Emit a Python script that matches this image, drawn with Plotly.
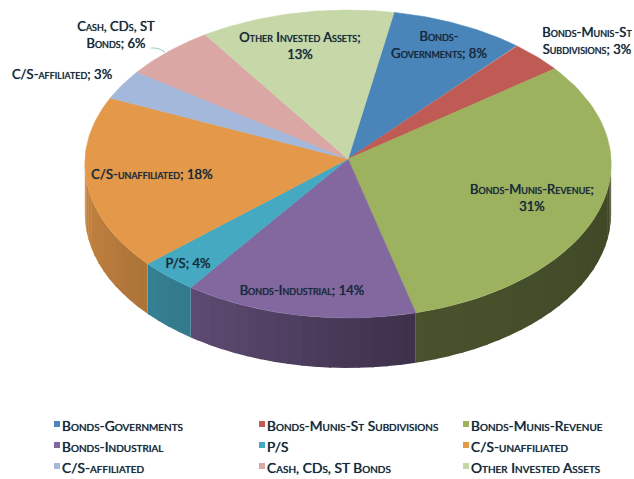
import numpy as np
import plotly.graph_objects as go

# ---- data ----
categories = ["Bonds-Governments", "Bonds-Munis-St Subdivisions", "Bonds-Munis-Revenue",
              "Bonds-Industrial", "P/S", "C/S-unaffiliated", "C/S-affiliated",
              "Cash, CDs, ST Bonds", "Other Invested Assets"]
values = [8.5, 3.4, 31.2, 13.9, 3.5, 18.2, 3.2, 5.8, 12.3]
slice_labels = ["Bonds-<br>Governments; 8%", "Bonds-Munis-St<br>Subdivisions; 3%",
                "Bonds-Munis-Revenue;<br>31%", "Bonds-Industrial; 14%", "P/S; 4%",
                "C/S-unaffiliated; 18%", "C/S-affiliated; 3%",
                "Cash, CDs, ST<br>Bonds; 6%", "Other Invested Assets;<br>13%"]

# ---- style and layout ----
colors = ["#4a85b9", "#bf5a54", "#9db25f", "#8368a0", "#45a9c1",
          "#e4994a", "#a3b8da", "#dba7a5", "#c7d8a8"]
label_x = [439, 587, 532, 302, 188, 152, 62, 116, 300]
label_y = [46, 42, 199, 291.5, 264.5, 175.5, 75.5, 36.5, 47]
legend_x = [62, 267, 471, 62, 267, 471, 62, 267, 471]
legend_y = [428, 428, 428, 449, 449, 449, 470, 470, 470]
FONT = "Lato"
LABEL_SIZE = 13.1
LEGEND_SIZE = 13.8
TEXT = "#17293a"
SHADOW = "0 0 0.7px #17293a"
CX, CY, A, B, K = 348, 159, 263, 153.8, 0.0325
DEPTH = 50
START = 10.4
shade_angle = [92, 165, 216, 270]
shade_value = [0.40, 0.46, 0.72, 0.88]


def rim(theta_deg):
    t = np.radians(theta_deg)
    w = 1 + K * np.cos(t)
    return CX + A * np.sin(t) / w, CY - B * np.cos(t) / w


def rgb(hex_color, f=1.0):
    r, g, b = (int(hex_color[i:i + 2], 16) for i in (1, 3, 5))
    return f"rgb({r * f:.0f},{g * f:.0f},{b * f:.0f})"


fig = go.Figure()
edges = START + np.concatenate([[0], np.cumsum(values)]) * 3.6
vis_lo = np.degrees(np.arccos(-K))
vis_hi = 360 - vis_lo

# side walls
for i, col in enumerate(colors):
    lo, hi = max(edges[i], vis_lo), min(edges[i + 1], vis_hi)
    if hi <= lo:
        continue
    steps = np.arange(lo, hi, 3.0).tolist() + [hi]
    for a0, a1 in zip(steps[:-1], steps[1:]):
        th = np.linspace(a0, a1 + (0.4 if a1 < hi else 0), 5)
        x, y = rim(th)
        px = np.concatenate([x, x[::-1]])
        py = np.concatenate([y, y[::-1] + DEPTH])
        f = float(np.interp((a0 + a1) / 2, shade_angle, shade_value))
        fig.add_trace(go.Scatter(x=px, y=py, mode="lines", fill="toself",
                                 fillcolor=rgb(col, f), line=dict(width=0),
                                 hoverinfo="skip", showlegend=False))

# top surface
for i, col in enumerate(colors):
    th = np.linspace(edges[i], edges[i + 1], 60)
    x, y = rim(th)
    fig.add_trace(go.Scatter(x=np.r_[CX, x, CX], y=np.r_[CY, y, CY], mode="lines",
                             fill="toself", fillcolor=col,
                             line=dict(width=0.6, color=col),
                             name=categories[i], hoverinfo="name", showlegend=False))

# leader line of the Cash label
fig.add_trace(go.Scatter(x=[151, 158, 165], y=[48, 48.5, 52], mode="lines",
                         line=dict(color="#9cc3cf", width=1, shape="spline"),
                         hoverinfo="skip", showlegend=False))

# slice labels
fig.add_trace(go.Scatter(x=label_x, y=label_y, text=slice_labels, mode="text",
                         textposition="middle center",
                         textfont=dict(family=FONT, size=LABEL_SIZE, color=TEXT, variant="small-caps", shadow=SHADOW),
                         hoverinfo="skip", showlegend=False, cliponaxis=False))

# legend
fig.add_trace(go.Scatter(x=[v - 5 for v in legend_x], y=[v - 4 for v in legend_y],
                         mode="markers",
                         marker=dict(symbol="square", size=6, color=colors),
                         hoverinfo="skip", showlegend=False))
fig.add_trace(go.Scatter(x=legend_x, y=legend_y, text=categories, mode="text",
                         textposition="middle right",
                         textfont=dict(family=FONT, size=LEGEND_SIZE, color=TEXT, variant="small-caps", shadow=SHADOW),
                         hoverinfo="skip", showlegend=False, cliponaxis=False))

fig.update_layout(width=634, height=479, margin=dict(l=0, r=0, t=0, b=0),
                  paper_bgcolor="white", plot_bgcolor="white",
                  xaxis=dict(range=[0, 634], visible=False, fixedrange=True),
                  yaxis=dict(range=[479, 0], visible=False, fixedrange=True),
                  font=dict(family=FONT, color=TEXT))
fig.write_html("out.html", config={"displayModeBar": False},
               post_script="document.body.style.margin='0';document.body.style.overflow='hidden';")
